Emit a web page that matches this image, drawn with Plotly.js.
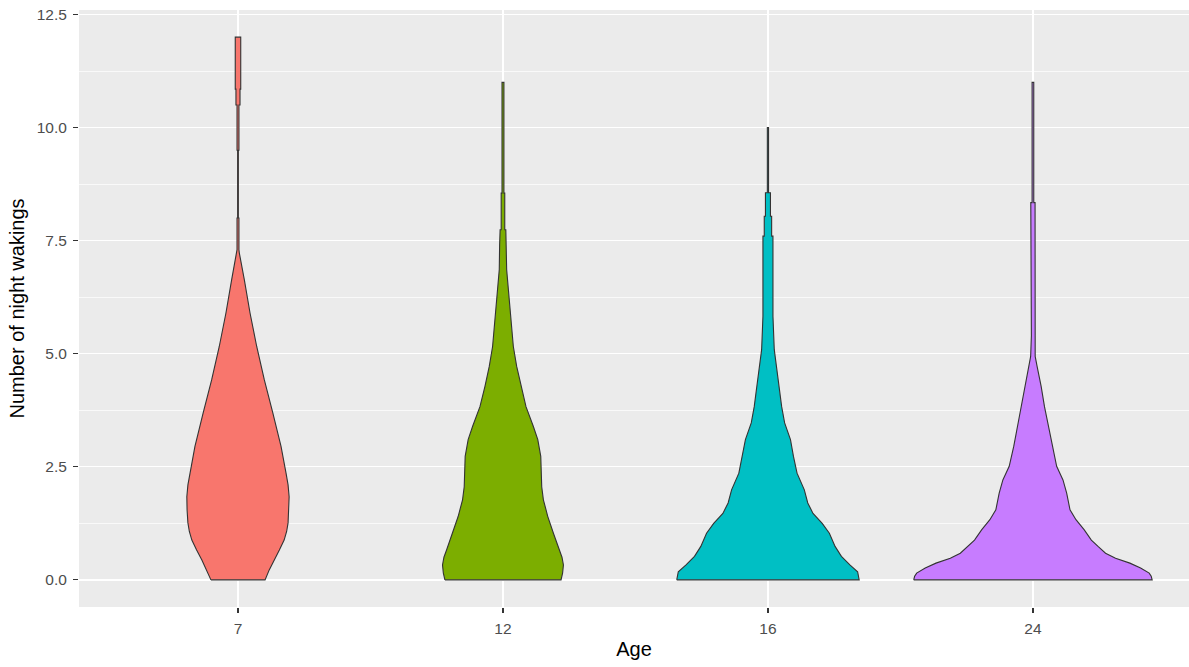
<!DOCTYPE html>
<html>
<head>
<meta charset="utf-8">
<script src="https://cdn.plot.ly/plotly-3.0.1.min.js"></script>
<style>html,body{margin:0;padding:0;background:#fff;}#chart{width:1189px;height:667px;}</style>
</head>
<body>
<div id="chart"></div>
<script>
// Categories (Age)
const ages = ['7', '12', '16', '24'];
const yTickVals = [0, 2.5, 5, 7.5, 10, 12.5];

// Violin profiles: y level and relative density (1 = widest violin)
const yAge7 = [0, 0.22, 0.44, 0.66, 0.88, 1.07, 1.26, 1.55, 1.84, 2.1, 2.36, 2.95, 3.69, 4.42, 5.16, 5.9, 6.64, 7.23, 7.3, 8.0, 8.0, 9.5, 9.5, 10.5, 10.5, 10.85, 10.85, 12.0];
const dAge7 = [0.227, 0.262, 0.303, 0.347, 0.387, 0.408, 0.420, 0.427, 0.429, 0.420, 0.403, 0.361, 0.292, 0.221, 0.157, 0.101, 0.053, 0.011, 0.008, 0.008, 0.003, 0.003, 0.008, 0.008, 0.017, 0.017, 0.023, 0.023];

const yAge12 = [0, 0.15, 0.33, 0.5, 0.66, 1.03, 1.40, 1.77, 2.06, 2.73, 3.10, 3.39, 3.83, 4.28, 4.72, 5.16, 5.75, 6.34, 6.86, 7.41, 7.74, 7.74, 8.55, 8.55, 9.4, 9.4, 9.73, 9.73, 11.0];
const dAge12 = [0.487, 0.500, 0.507, 0.495, 0.473, 0.423, 0.376, 0.339, 0.325, 0.317, 0.292, 0.255, 0.193, 0.151, 0.115, 0.087, 0.067, 0.048, 0.031, 0.028, 0.024, 0.015, 0.015, 0.008, 0.008, 0.003, 0.003, 0.008, 0.008];

const yAge16 = [0, 0.18, 0.33, 0.52, 0.74, 1.03, 1.25, 1.47, 1.70, 1.99, 2.36, 2.73, 3.10, 3.47, 3.83, 4.20, 4.57, 5.09, 5.83, 7.6, 7.6, 8.04, 8.04, 8.56, 8.56, 10.0];
const dAge16 = [0.765, 0.752, 0.687, 0.616, 0.563, 0.515, 0.455, 0.378, 0.334, 0.305, 0.244, 0.214, 0.189, 0.140, 0.115, 0.097, 0.077, 0.053, 0.042, 0.042, 0.031, 0.031, 0.021, 0.021, 0.005, 0.005];

const yAge24 = [0, 0.08, 0.15, 0.26, 0.37, 0.48, 0.59, 0.74, 0.88, 1.11, 1.33, 1.55, 1.92, 2.21, 2.51, 2.95, 3.39, 3.83, 4.28, 4.72, 4.94, 5.4, 7.3, 7.3, 8.34, 8.34, 9.03, 9.03, 10.13, 10.13, 11.0];
const dAge24 = [1.0, 0.992, 0.975, 0.903, 0.813, 0.693, 0.609, 0.546, 0.490, 0.429, 0.361, 0.311, 0.283, 0.252, 0.199, 0.161, 0.129, 0.097, 0.069, 0.035, 0.019, 0.013, 0.015, 0.018, 0.018, 0.007, 0.007, 0.002, 0.002, 0.007, 0.007];

const profilesY = [yAge7, yAge12, yAge16, yAge24];
const profilesD = [dAge7, dAge12, dAge16, dAge24];
const fills = ['#F8766D', '#7CAE00', '#00BFC4', '#C77CFF'];
const maxHalfWidth = 0.45;

const traces = ages.map((age, i) => {
  const pos = i + 1;
  const ys = profilesY[i], ds = profilesD[i];
  const xl = ys.map((y, k) => pos - ds[k] * maxHalfWidth);
  const xr = ys.map((y, k) => pos + ds[k] * maxHalfWidth).reverse();
  const x = xl.concat(xr, [xl[0]]);
  const y = ys.concat(ys.slice().reverse(), [ys[0]]);
  return {
    type: 'scatter', mode: 'lines', x: x, y: y, name: age,
    fill: 'toself', fillcolor: fills[i],
    line: {color: '#333333', width: 1.1, shape: 'linear'},
    hoverinfo: 'skip', showlegend: false
  };
});

const font = 'Liberation Sans, Arial, sans-serif';
const layout = {
  width: 1189, height: 667,
  margin: {l: 79, r: 0, t: 10, b: 60, pad: 0},
  paper_bgcolor: '#ffffff', plot_bgcolor: '#EBEBEB',
  showlegend: false,
  font: {family: font},
  xaxis: {
    range: [0.4, 4.589], tickvals: [1, 2, 3, 4], ticktext: ages,
    ticks: 'outside', ticklen: 5, tickwidth: 1.2, tickcolor: '#333333',
    ticklabelstandoff: 2,
    tickfont: {size: 15.5, color: '#4D4D4D', family: font},
    showgrid: true, gridcolor: '#ffffff', gridwidth: 1.4,
    zeroline: false, showline: false, fixedrange: true,
    title: {text: 'Age', font: {size: 20, color: '#000000', family: font}, standoff: 6}
  },
  yaxis: {
    range: [-0.6, 12.6], tickvals: yTickVals, tickformat: '.1f',
    ticks: 'outside', ticklen: 5, tickwidth: 1.2, tickcolor: '#333333',
    ticklabelstandoff: 3,
    tickfont: {size: 15.5, color: '#4D4D4D', family: font},
    showgrid: true, gridcolor: '#ffffff', gridwidth: 1.4,
    minor: {tickvals: [1.25, 3.75, 6.25, 8.75, 11.25], showgrid: true, gridcolor: '#ffffff', gridwidth: 0.7, ticks: ''},
    zeroline: false, showline: false, fixedrange: true,
    title: {text: 'Number of night wakings', font: {size: 20, color: '#000000', family: font}, standoff: 6}
  }
};

Plotly.newPlot('chart', traces, layout, {staticPlot: true, displayModeBar: false});
</script>
</body>
</html>
